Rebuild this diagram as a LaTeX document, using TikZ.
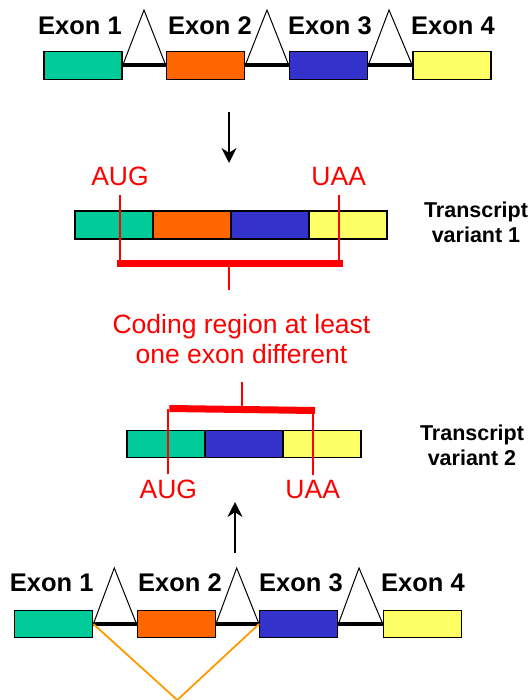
\documentclass[tikz,border=0pt]{standalone}
\usepackage{fontspec}
\setmainfont{Liberation Sans}
\usetikzlibrary{arrows.meta}

\definecolor{exteal}{HTML}{00CC99}
\definecolor{exorange}{HTML}{FF6600}
\definecolor{exblue}{HTML}{3333CC}
\definecolor{exyellow}{HTML}{FFFF66}
\definecolor{splicecol}{HTML}{FF9900}

\begin{document}
\begin{tikzpicture}[x=1pt, y=-1pt, >={Stealth[length=15pt,width=15pt]},
    exon/.style={draw, line width=1.3pt, minimum width=78pt, minimum height=27.5pt, inner sep=0pt},
    exonlabel/.style={font=\fontsize{25.5}{30}\selectfont\bfseries, anchor=base, inner sep=0pt},
    tlabel/.style={font=\fontsize{21.5}{25}\selectfont\bfseries, align=center, anchor=base, inner sep=0pt},
    redtext/.style={text=red, font=\fontsize{26.5}{30}\selectfont, anchor=base, inner sep=0pt},
    intron/.style={line width=4pt},
    intronhat/.style={line width=1pt, line join=miter},
    codon/.style={draw=red, line width=1.8pt},
    codonbar/.style={draw=red, line width=7pt},
    splice/.style={splicecol, line width=1.8pt}
  ]
  \useasboundingbox (0,0) rectangle (529,700);

  % gene on top
  \node[exon, fill=exteal]   (ta1) at (83,65.5)    {};
  \node[exon, fill=exorange] (ta2) at (205.5,65.5) {};
  \node[exon, fill=exblue]   (ta3) at (328.5,65.5) {};
  \node[exon, fill=exyellow] (ta4) at (452,65.5)   {};
  \coordinate (tt1) at (144,10);
  \coordinate (tt2) at (267,10);
  \coordinate (tt3) at (389,10);
  \draw[intron] (ta1.east) -- (ta2.west);
  \draw[intron] (ta2.east) -- (ta3.west);
  \draw[intron] (ta3.east) -- (ta4.west);
  \draw[intronhat] (ta1.east) -- (tt1) -- (ta2.west);
  \draw[intronhat] (ta2.east) -- (tt2) -- (ta3.west);
  \draw[intronhat] (ta3.east) -- (tt3) -- (ta4.west);
  \node[exonlabel] (tl1) at (80,34.3)  {Exon 1};
  \node[exonlabel] (tl2) at (210,34.3) {Exon 2};
  \node[exonlabel] (tl3) at (330,34.3) {Exon 3};
  \node[exonlabel] (tl4) at (453,34.3) {Exon 4};

  \coordinate (dn0) at (229,112);
  \coordinate (dn1) at (229,163);
  \draw[->, line width=1.8pt] (dn0) -- (dn1);

  % transcript variant 1
  \node[exon, minimum height=28pt, fill=exteal]   (v1a) at (114,225) {};
  \node[exon, minimum height=28pt, fill=exorange] (v1b) at (192,225) {};
  \node[exon, minimum height=28pt, fill=exblue]   (v1c) at (270,225) {};
  \node[exon, minimum height=28pt, fill=exyellow] (v1d) at (348,225) {};
  \node[tlabel] (tv1) at (476,243) {Transcript\\variant 1};

  \node[redtext] (start1) at (120,186) {AUG};
  \node[redtext] (stop1)  at (338.7,186) {UAA};
  \coordinate (c1l) at (117.3,263);
  \coordinate (c1r) at (343.3,263);
  \coordinate (s1)  at (229,290);
  \draw[codon] ([yshift=-9pt]start1.south) -- (start1.south |- c1l);
  \draw[codon] ([yshift=-9pt]stop1.south) -- (stop1.south |- c1r);
  \draw[codonbar] (c1l) -- (c1r);
  \draw[codon] (s1 |- c1l) -- (s1);

  \node[redtext, align=center] (coding) at (241.5,363)
    {Coding region at least\\one exon different};

  % transcript variant 2
  \coordinate (s2)  at (242,382);
  \coordinate (c2l) at (169.3,408.5);
  \coordinate (c2r) at (315,410.5);
  \draw[codonbar] (c2l) -- (c2r);
  \draw[codon] (s2) -- ++(0,27);

  \node[exon, fill=exteal]   (v2a) at (166,444) {};
  \node[exon, fill=exblue]   (v2b) at (244,444) {};
  \node[exon, fill=exyellow] (v2c) at (322,444) {};
  \node[tlabel] (tv2) at (472,465) {Transcript\\variant 2};

  \node[redtext] (start2) at (168.3,498) {AUG};
  \node[redtext] (stop2)  at (312.7,498) {UAA};
  \draw[codon] (start2.north |- c2l) -- ([yshift=5pt]start2.north);
  \draw[codon] (stop2.north |- c2r) -- ([yshift=5pt]stop2.north);

  \coordinate (up0) at (235,553);
  \coordinate (up1) at (235,502);
  \draw[->, line width=1.8pt] (up0) -- (up1);

  % gene at the bottom
  \node[exon, fill=exteal]   (ba1) at (53.7,624)  {};
  \node[exon, fill=exorange] (ba2) at (176.2,624) {};
  \node[exon, fill=exblue]   (ba3) at (298.7,624) {};
  \node[exon, fill=exyellow] (ba4) at (422.5,624) {};
  \coordinate (bt1) at (114.3,568);
  \coordinate (bt2) at (236.7,568);
  \coordinate (bt3) at (359,568);
  \draw[intron] (ba1.east) -- (ba2.west);
  \draw[intron] (ba2.east) -- (ba3.west);
  \draw[intron] (ba3.east) -- (ba4.west);
  \draw[intronhat] (ba1.east) -- (bt1) -- (ba2.west);
  \draw[intronhat] (ba2.east) -- (bt2) -- (ba3.west);
  \draw[intronhat] (ba3.east) -- (bt3) -- (ba4.west);
  \node[exonlabel] (bl1) at (51.7,591.7) {Exon 1};
  \node[exonlabel] (bl2) at (180,591.7)  {Exon 2};
  \node[exonlabel] (bl3) at (301,591.7)  {Exon 3};
  \node[exonlabel] (bl4) at (423,591.7)  {Exon 4};

  \coordinate (join) at (177.3,700);
  \draw[splice] (ba1.east) -- (join) -- (ba3.west);
\end{tikzpicture}
\end{document}
